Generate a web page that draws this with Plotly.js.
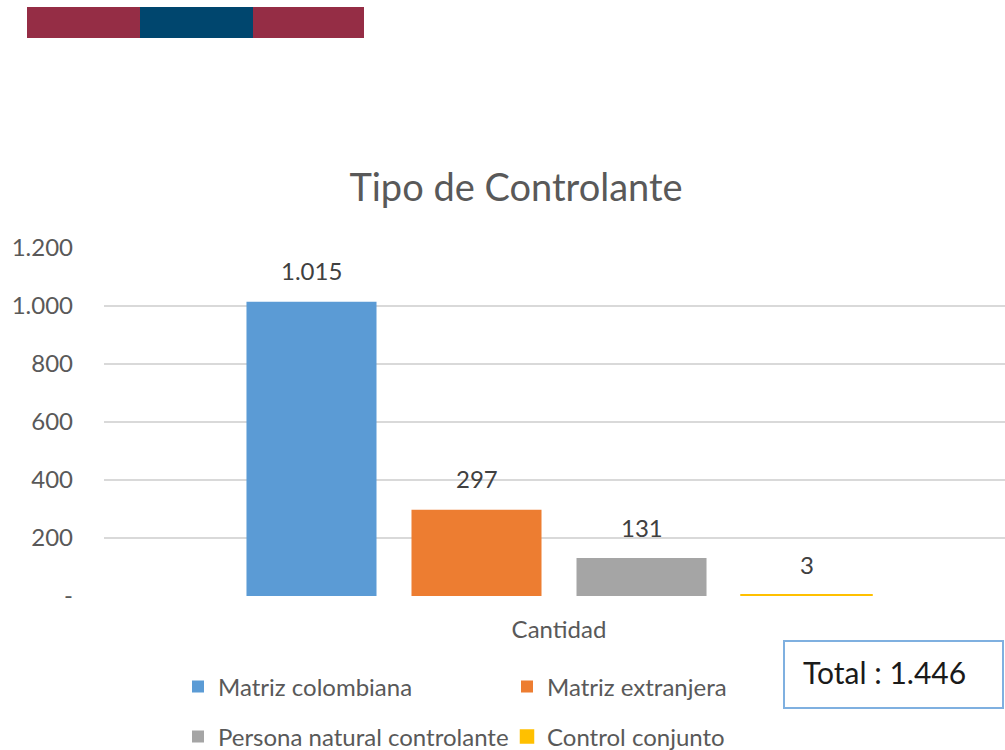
<!DOCTYPE html>
<html>
<head>
<meta charset="utf-8">
<script src="https://cdn.plot.ly/plotly-3.0.1.min.js"></script>
<style>html,body{margin:0;padding:0;background:#fff;}#chart{width:1005px;height:750px;}</style>
</head>
<body>
<div id="chart"></div>
<script>
// ---- data ----
var category = ['Cantidad'];
var seriesNames = ['Matriz colombiana', 'Matriz extranjera', 'Persona natural controlante', 'Control conjunto'];
var seriesValues = [1015, 297, 131, 3];
var seriesColors = ['#5B9BD5', '#ED7D31', '#A5A5A5', '#FFC000'];
var yTickVals = [0, 200, 400, 600, 800, 1000, 1200];
var yTickText = ['-', '200', '400', '600', '800', '1.000', '1.200'];
var totalLabel = 'Total : ';
var totalValue = 1446;

// ---- layout helpers (pixel -> paper) ----
var L = 104, R = 1005, T = 248, B = 596;
function px(x) { return (x - L) / (R - L); }
function py(y) { return (B - y) / (B - T); }
function fmt(v) { return v.toString().replace(/\B(?=(\d{3})+(?!\d))/g, '.'); }

var FONT = 'Lato, "Liberation Sans", sans-serif';
var traces = seriesNames.map(function (n, i) {
  return {
    type: 'bar', x: category, y: [seriesValues[i]], name: n,
    marker: { color: seriesColors[i], line: { color: seriesColors[i], width: i === 3 ? 2.5 : 0 } },
    legend: i < 2 ? 'legend' : 'legend2',
    hoverinfo: 'skip'
  };
});

var annotations = seriesValues.map(function (v, i) {
  return {
    xref: 'x', yref: 'y', x: category[0], y: v, text: fmt(v),
    showarrow: false, xanchor: 'center', yanchor: 'middle',
    xshift: (i - 1.5) * 165, yshift: 31,
    font: { family: FONT, size: 24, color: '#404040' }
  };
});
annotations.push({
  xref: 'paper', yref: 'paper', x: px(801), y: py(672), xanchor: 'left', yanchor: 'middle',
  text: totalLabel + fmt(totalValue), showarrow: false,
  font: { family: FONT, size: 30, color: '#1a1a1a' }
});

var shapes = [
  { type: 'rect', xref: 'paper', yref: 'paper', x0: px(27), x1: px(140), y0: py(38), y1: py(7), fillcolor: '#952D45', line: { width: 0 } },
  { type: 'rect', xref: 'paper', yref: 'paper', x0: px(140), x1: px(253), y0: py(38), y1: py(7), fillcolor: '#00466E', line: { width: 0 } },
  { type: 'rect', xref: 'paper', yref: 'paper', x0: px(253), x1: px(364), y0: py(38), y1: py(7), fillcolor: '#952D45', line: { width: 0 } },
  { type: 'rect', xref: 'paper', yref: 'paper', x0: px(784), x1: px(1003), y0: py(708), y1: py(641), fillcolor: 'rgba(0,0,0,0)', line: { width: 2, color: '#7FB0E0' } }
];

var legendBase = {
  orientation: 'h', xanchor: 'left', yanchor: 'middle', x: px(178),
  font: { family: FONT, size: 24, color: '#595959' },
  entrywidth: 284, entrywidthmode: 'pixels', bgcolor: 'rgba(0,0,0,0)', traceorder: 'normal'
};

var layout = {
  width: 1005, height: 750,
  margin: { l: L, r: 1005 - R, t: T, b: 750 - B, pad: 0, autoexpand: false },
  paper_bgcolor: '#ffffff', plot_bgcolor: '#ffffff',
  title: {
    text: 'Tipo de Controlante', x: 516 / 1005, xanchor: 'center', xref: 'container',
    y: 1 - 188 / 750, yanchor: 'middle', yref: 'container',
    font: { family: FONT, size: 38, color: '#595959' }
  },
  bargap: 0.2747, bargroupgap: 0.212, barmode: 'group',
  xaxis: {
    type: 'category', range: [-0.5, 0.4901], showgrid: false, zeroline: false, showline: false,
    ticks: '', ticklabelstandoff: 17,
    tickfont: { family: FONT, size: 24, color: '#595959' }, fixedrange: true
  },
  yaxis: {
    range: [0, 1200], tickvals: yTickVals, ticktext: yTickText,
    showgrid: true, gridcolor: '#D9D9D9', gridwidth: 1.5, zeroline: false, showline: false,
    ticks: '', ticklabelstandoff: 30,
    tickfont: { family: FONT, size: 24, color: '#595959' }, fixedrange: true
  },
  legend: Object.assign({}, legendBase, { y: py(687) }),
  legend2: Object.assign({}, legendBase, { y: py(737) }),
  annotations: annotations,
  shapes: shapes,
  showlegend: true
};

Plotly.newPlot('chart', traces, layout, { staticPlot: true, displayModeBar: false });
</script>
</body>
</html>
